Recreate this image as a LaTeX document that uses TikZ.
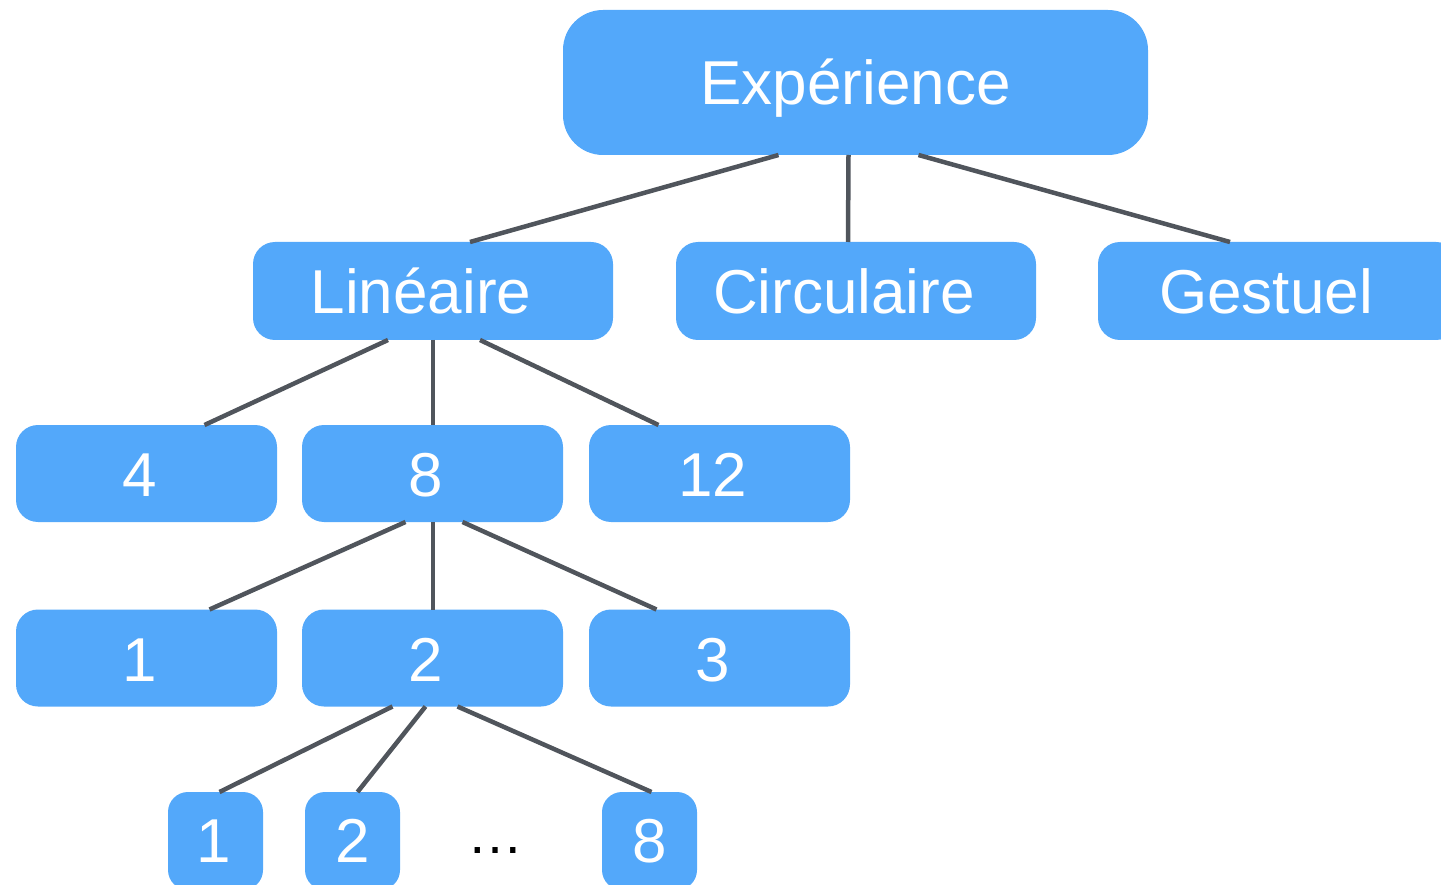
\documentclass[tikz,border=0pt]{standalone}
\usepackage{fontspec}
\setmainfont{Liberation Sans}
\usetikzlibrary{calc}
\definecolor{boxblue}{HTML}{53A8FA}
\definecolor{edgegray}{HTML}{50555C}
\tikzset{
  box/.style={fill=boxblue, draw=none, rounded corners=22pt, inner sep=0pt, outer sep=0pt, minimum width=261pt, minimum height=97pt},
  bigbox/.style={box, rounded corners=40pt, minimum width=585pt, minimum height=145pt},
  midbox/.style={box, minimum width=360pt, minimum height=98pt},
  smallbox/.style={box, rounded corners=20pt, minimum width=95pt, minimum height=98pt},
  lbl/.style={text=white, anchor=base, inner sep=0pt, font=\fontsize{62}{62}\selectfont},
  edge/.style={draw=edgegray, line width=4.5pt}
}
\begin{document}
\begin{tikzpicture}[x=1pt,y=-1pt]
\useasboundingbox (0,0) rectangle (1441,885);
\clip (0,0) rectangle (1441,885);
% boxes
\node[bigbox] (exp) at (855.5,82.5) {};
\node[midbox] (lin) at (433,291) {};
\node[midbox] (cir) at (856,291) {};
\node[midbox] (ges) at (1278,291) {};
\node[box] (n4) at (146.5,473.5) {};
\node[box] (n8) at (432.5,473.5) {};
\node[box] (n12) at (719.5,473.5) {};
\node[box] (m1) at (146.5,658) {};
\node[box] (m2) at (432.5,658) {};
\node[box] (m3) at (719.5,658) {};
\node[smallbox] (b1) at (215.5,841) {};
\node[smallbox] (b2) at (352.5,841) {};
\node[smallbox] (b8) at (649.5,841) {};
% labels
\node[lbl] (texp) at ($(exp.center)+(0,22)$) {Expérience};
\node[lbl] (tlin) at ($(lin.center)+(-12,23)$) {Linéaire};
\node[lbl] (tcir) at ($(cir.center)+(-12,23)$) {Circulaire};
\node[lbl] (tges) at ($(ges.center)+(-12,23)$) {Gestuel};
\node[lbl] (t4) at ($(n4.center)+(-7,23)$) {4};
\node[lbl] (t8) at ($(n8.center)+(-7,23)$) {8};
\node[lbl] (t12) at ($(n12.center)+(-7,23)$) {12};
\node[lbl] (tm1) at ($(m1.center)+(-7,23)$) {1};
\node[lbl] (tm2) at ($(m2.center)+(-7,23)$) {2};
\node[lbl] (tm3) at ($(m3.center)+(-7,23)$) {3};
\node[lbl] (tb1) at ($(b1.center)+(-2,21)$) {1};
\node[lbl] (tb2) at ($(b2.center)+(0,21)$) {2};
\node[lbl] (tb8) at ($(b8.center)+(0,21)$) {8};
\node[anchor=base, inner sep=0pt, font=\fontsize{56}{56}\selectfont] (dots) at (495,853) {…};
% edges
\draw[edge] ($(exp.south)+(-77,0)$) -- ($(lin.north)+(37,0)$);
\draw[edge] ($(exp.south)+(-7,0)$) -- ($(cir.north)+(-8,0)$);
\draw[edge] ($(exp.south)+(63,0)$) -- ($(ges.north)+(-48,0)$);
\draw[edge] ($(lin.south)+(-45,0)$) -- ($(n4.north)+(58,0)$);
\draw[edge] ($(lin.south)+(0,0)$) -- ($(n8.north)+(0.5,0)$);
\draw[edge] ($(lin.south)+(47,0)$) -- ($(n12.north)+(-61,0)$);
\draw[edge] ($(n8.south)+(-27,0)$) -- ($(m1.north)+(63,0)$);
\draw[edge] ($(n8.south)+(0.5,0)$) -- ($(m2.north)+(0.5,0)$);
\draw[edge] ($(n8.south)+(30,0)$) -- ($(m3.north)+(-63,0)$);
\draw[edge] ($(m2.south)+(-40,0)$) -- ($(b1.north)+(4,0)$);
\draw[edge] ($(m2.south)+(-7,0)$) -- ($(b2.north)+(5,0)$);
\draw[edge] ($(m2.south)+(25,0)$) -- ($(b8.north)+(2,0)$);
\end{tikzpicture}
\end{document}
